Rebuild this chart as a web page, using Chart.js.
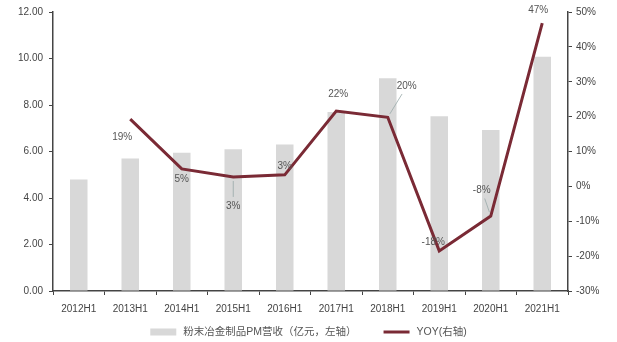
<!DOCTYPE html>
<html>
<head>
<meta charset="utf-8">
<script src="https://cdn.jsdelivr.net/npm/chart.js@4.4.0/dist/chart.umd.min.js"></script>
<style>
  html, body { margin: 0; padding: 0; background: #fff; }
  #wrap { width: 617px; height: 342px; }
</style>
</head>
<body>
<div id="wrap"><canvas id="graficoPM" width="617" height="342"></canvas></div>
<script>
// datos: ingresos PM (亿元) y crecimiento interanual
const periodos = ['2012H1', '2013H1', '2014H1', '2015H1', '2016H1', '2017H1', '2018H1', '2019H1', '2020H1', '2021H1'];
const ingresos = [4.80, 5.70, 5.95, 6.10, 6.30, 7.70, 9.15, 7.52, 6.92, 10.08];
const yoy = [null, 19.3, 5.0, 2.7, 3.3, 21.6, 19.8, -18.5, -8.5, 46.8];
const etiquetasYoy = [null, '19%', '5%', '3%', '3%', '22%', '20%', '-18%', '-8%', '47%'];

// desplazamiento de cada etiqueta respecto a su punto [dx, dy, guia]
const desplaz = [null, [-8, 18, false], [0, 10, false], [0, 29, true], [0, -9, false],
                 [2, -17, false], [19, -31, true], [-6, -9, false], [-9, -26, true], [-4, -13, false]];

const fuente = "'Liberation Sans', 'Noto Sans CJK SC', sans-serif";
const gris = '#444';

const etiquetasLinea = {
    id: 'etiquetasLinea',
    afterDatasetsDraw(chart) {
        const ctx = chart.ctx;
        const meta = chart.getDatasetMeta(1);
        ctx.save();
        ctx.font = '10px ' + fuente;
        ctx.fillStyle = '#555';
        ctx.textAlign = 'center';
        ctx.textBaseline = 'middle';
        meta.data.forEach((pt, i) => {
            if (!etiquetasYoy[i]) return;
            const [dx, dy, guia] = desplaz[i];
            const tx = pt.x + dx, ty = pt.y + dy;
            if (guia) {
                ctx.strokeStyle = '#9aa';
                ctx.lineWidth = 0.8;
                ctx.beginPath();
                const fx = dx / Math.hypot(dx, dy), fy = dy / Math.hypot(dx, dy);
                ctx.moveTo(pt.x + fx * 4, pt.y + fy * 4);
                ctx.lineTo(tx - fx * 9, ty - fy * 9);
                ctx.stroke();
            }
            ctx.fillText(etiquetasYoy[i], tx, ty);
        });
        ctx.restore();
    }
};

// leyenda inferior dibujada a mano (muestra 26px, texto, separación 27px)
const leyendaInferior = {
    id: 'leyendaInferior',
    afterDraw(chart) {
        const ctx = chart.ctx;
        const y = 332, muestra = 26, hueco = 7, sep = 27;
        ctx.save();
        ctx.font = '10.5px ' + fuente;
        const items = chart.data.datasets.map(ds => ({ ds, w: muestra + hueco + ctx.measureText(ds.label).width }));
        const total = items.reduce((s, it) => s + it.w, 0) + sep * (items.length - 1);
        let x = chart.width / 2 - total / 2;
        items.forEach(({ ds, w }) => {
            if (ds.type === 'line') {
                ctx.strokeStyle = ds.borderColor;
                ctx.lineWidth = ds.borderWidth;
                ctx.beginPath();
                ctx.moveTo(x, y);
                ctx.lineTo(x + muestra, y);
                ctx.stroke();
            } else {
                ctx.fillStyle = ds.backgroundColor;
                ctx.fillRect(x, y - 3.5, muestra, 7);
            }
            ctx.fillStyle = '#555';
            ctx.textBaseline = 'middle';
            ctx.fillText(ds.label, x + muestra + hueco, y);
            x += w + sep;
        });
        ctx.restore();
    }
};

const ctxPM = document.getElementById('graficoPM').getContext('2d');
new Chart(ctxPM, {
    type: 'bar',
    data: {
        labels: periodos,
        datasets: [{
            type: 'bar',
            label: '粉末冶金制品PM营收（亿元，左轴）',
            data: ingresos,
            backgroundColor: '#d8d8d8',
            barPercentage: 0.34,
            categoryPercentage: 1,
            yAxisID: 'y',
            order: 2
        }, {
            type: 'line',
            label: 'YOY(右轴)',
            data: yoy,
            borderColor: '#7a2a35',
            backgroundColor: '#7a2a35',
            borderWidth: 3,
            pointRadius: 0,
            tension: 0,
            yAxisID: 'y1',
            order: 1
        }]
    },
    options: {
        responsive: false,
        animation: false,
        layout: { padding: { top: 0, left: 0, right: 0, bottom: 25 } },
        plugins: {
            legend: { display: false },
            tooltip: { enabled: false }
        },
        scales: {
            x: {
                afterFit: s => { s.height = 26; },
                grid: { drawOnChartArea: false, tickLength: 4, color: gris, offset: true },
                border: { color: gris, width: 1.5 },
                ticks: { color: '#444', font: { size: 10, family: fuente }, padding: 8, maxRotation: 0 }
            },
            y: {
                position: 'left',
                min: 0, max: 12,
                afterFit: s => { s.width = 53; },
                grid: { drawOnChartArea: false, tickLength: 4, color: gris },
                border: { color: gris, width: 1.5 },
                ticks: { stepSize: 2, color: '#444', font: { size: 10, family: fuente }, padding: 6,
                         callback: v => v.toFixed(2) }
            },
            y1: {
                position: 'right',
                min: -30, max: 50,
                afterFit: s => { s.width = 49; },
                grid: { drawOnChartArea: false, tickLength: 4, color: gris },
                border: { color: gris, width: 1.5 },
                ticks: { stepSize: 10, color: '#444', font: { size: 10, family: fuente }, padding: 4,
                         callback: v => v + '%' }
            }
        }
    },
    plugins: [etiquetasLinea, leyendaInferior]
});
</script>
</body>
</html>
